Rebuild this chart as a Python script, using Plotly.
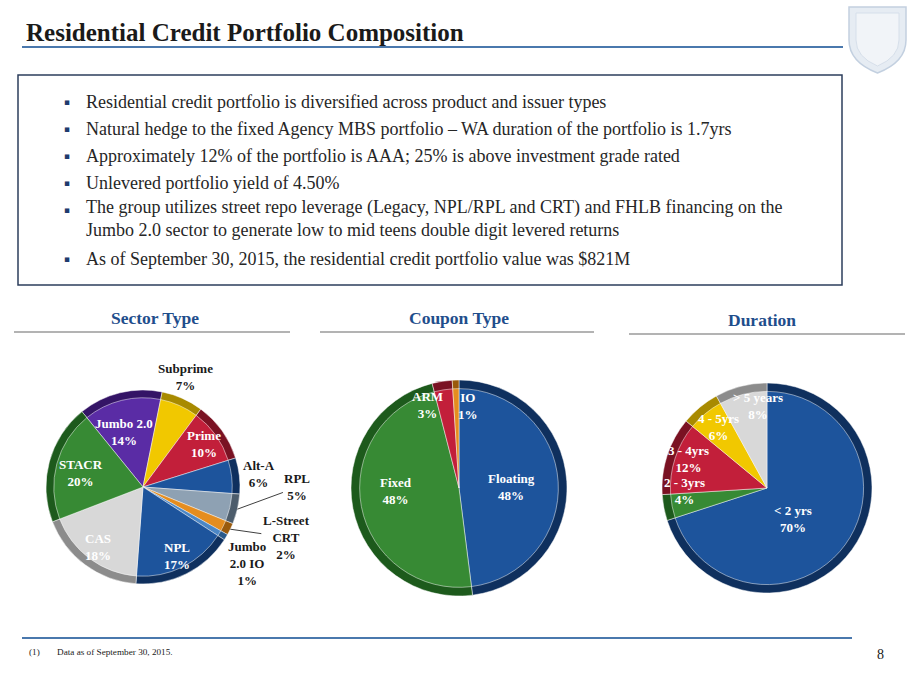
import math
import plotly.graph_objects as go

W, H = 920, 690

# ---- data ----
sector_labels = ['Jumbo 2.0', 'Subprime', 'Prime', 'Alt-A', 'RPL', 'L-Street CRT',
                 'Jumbo 2.0 IO', 'NPL', 'CAS', 'STACR']
sector_values = [14, 7, 10, 6, 5, 2, 1, 17, 18, 20]
sector_text = ['Jumbo 2.0', 'Subprime', 'Prime', 'Alt-A', 'RPL', 'L-Street<br>CRT',
               'Jumbo<br>2.0 IO', 'NPL', 'CAS', 'STACR']

coupon_labels = ['Floating', 'Fixed', 'ARM', 'IO']
coupon_values = [48, 48, 3, 1]

duration_labels = ['< 2 yrs', '2 - 3yrs', '3 - 4yrs', '4 - 5yrs', '> 5 years']
duration_values = [70, 4, 12, 6, 8]

bullets = [
    'Residential credit portfolio is diversified across product and issuer types',
    'Natural hedge to the fixed Agency MBS portfolio \u2013 WA duration of the portfolio is 1.7yrs',
    'Approximately 12% of the portfolio is AAA; 25% is above investment grade rated',
    'Unlevered portfolio yield of 4.50%',
    'The group utilizes street repo leverage (Legacy, NPL/RPL and CRT) and FHLB financing on the'
    '<br>Jumbo 2.0 sector to generate low to mid teens double digit levered returns',
    'As of September 30, 2015, the residential credit portfolio value was $821M',
]

# ---- styles ----
BLUE, BLUE_D = '#1d549c', '#0f305e'
GREEN, GREEN_D = '#378a34', '#1d5a1c'
RED, RED_D = '#c21f3a', '#7a1223'
YELLOW, YELLOW_D = '#f1c800', '#a88a00'
GRAY, GRAY_D = '#d8d8d8', '#8c8c8c'
PURPLE, PURPLE_D = '#5a2ca5', '#341466'
ORANGE, ORANGE_D = '#e58d1f', '#9a5a0c'
SLATE, SLATE_D = '#8ea1b3', '#4d5d6c'
LBLUE, LBLUE_D = '#4c87c6', '#2a5a8c'

sector_colors = [PURPLE, YELLOW, RED, BLUE, SLATE, ORANGE, LBLUE, BLUE, GRAY, GREEN]
sector_dark = [PURPLE_D, YELLOW_D, RED_D, BLUE_D, SLATE_D, ORANGE_D, LBLUE_D, BLUE_D, GRAY_D, GREEN_D]
coupon_colors = [BLUE, GREEN, RED, ORANGE]
coupon_dark = [BLUE_D, GREEN_D, RED_D, ORANGE_D]
duration_colors = [BLUE, GREEN, RED, YELLOW, GRAY]
duration_dark = [BLUE_D, GREEN_D, RED_D, YELLOW_D, GRAY_D]

SERIF = 'Liberation Serif'
LABEL_FONT = dict(family=SERIF, size=13)


def px(x):
    return x / W


def py(y):
    return 1 - y / H


fig = go.Figure()
annotations = []
shapes = []


def text_at(x, y, text, font, xanchor='center', align='center'):
    annotations.append(dict(x=px(x), y=py(y), xref='paper', yref='paper', showarrow=False,
                            xanchor=xanchor, yanchor='middle', align=align,
                            text=text, font=font))


def add_pie(labels, values, colors, dark, cx, cy, r, rotation, name):
    for k, (rr, cols) in enumerate([(r, dark), (r * 0.92, colors)]):
        fig.add_trace(go.Pie(
            labels=labels, values=values, sort=False, direction='clockwise',
            rotation=rotation, textinfo='none', hoverinfo='label+percent' if k else 'skip',
            marker=dict(colors=cols, line=dict(color='rgba(255,255,255,0.6)', width=0.8)),
            domain=dict(x=[px(cx - rr), px(cx + rr)], y=[py(cy + rr), py(cy - rr)]),
            showlegend=False, name=name))


def slice_mids(values, rotation):
    total = sum(values)
    mids, a = [], rotation
    for v in values:
        span = 360 * v / total
        mids.append(a + span / 2)
        a += span
    return mids


def put_labels(texts, values, cx, cy, r, rotation, placement):
    mids = slice_mids(values, rotation)
    for i, (txt, v) in enumerate(zip(texts, values)):
        fac, shift, color, lead = placement[i]
        a = math.radians(mids[i] + shift)
        label = f'<b>{txt}<br>{v}%</b>'
        font = dict(LABEL_FONT, color=color)
        if lead is None:
            text_at(cx + fac * r * math.sin(a), cy - fac * r * math.cos(a), label, font)
        else:
            annotations.append(dict(
                x=px(cx + r * math.sin(a)), y=py(cy - r * math.cos(a)),
                xref='paper', yref='paper', showarrow=True,
                arrowhead=0, arrowwidth=1, arrowcolor='#404040', ax=lead[0], ay=lead[1],
                text=label, font=font, align='center'))


# Sector Type pie
S_CX, S_CY, S_R, S_ROT = 143, 487, 97, -39
add_pie(sector_labels, sector_values, sector_colors, sector_dark, S_CX, S_CY, S_R, S_ROT, 'Sector Type')
put_labels(sector_text, sector_values, S_CX, S_CY, S_R, S_ROT, [
    (0.60, -5, 'white', None),
    (1.22, -3, '#1a1a1a', None),
    (0.77, 0, 'white', None),
    (1.20, 0, '#1a1a1a', None),
    (1.0, 0, '#1a1a1a', (60, -22)),
    (1.0, 0, '#1a1a1a', (56, 8)),
    (1.33, 5, '#1a1a1a', None),
    (0.79, 0, 'white', None),
    (0.77, 0, 'white', None),
    (0.66, -2, 'white', None),
])

# Coupon Type pie
C_CX, C_CY, C_R, C_ROT = 459, 488, 108, 0
add_pie(coupon_labels, coupon_values, coupon_colors, coupon_dark, C_CX, C_CY, C_R, C_ROT, 'Coupon Type')
put_labels(coupon_labels, coupon_values, C_CX, C_CY, C_R, C_ROT, [
    (0.49, 2, 'white', None),
    (0.58, 8, 'white', None),
    (0.82, -12, 'white', None),
    (0.76, 8, 'white', None),
])

# Duration pie
D_CX, D_CY, D_R, D_ROT = 767, 488, 105, 0
add_pie(duration_labels, duration_values, duration_colors, duration_dark, D_CX, D_CY, D_R, D_ROT, 'Duration')
put_labels(duration_labels, duration_values, D_CX, D_CY, D_R, D_ROT, [
    (0.38, 14, 'white', None),
    (0.79, 9, 'white', None),
    (0.80, 2, 'white', None),
    (0.74, 1, 'white', None),
    (0.79, 8, 'white', None),
])

# ---- page furniture ----
text_at(24, 33, '<b>Residential Credit Portfolio Composition</b>',
        dict(family=SERIF, size=25, color='#1a1a1a'), xanchor='left')
shapes.append(dict(type='line', xref='paper', yref='paper', x0=px(22), x1=px(843),
                   y0=py(47), y1=py(47), line=dict(color='#4a78ad', width=2)))

# logo shield
shapes.append(dict(type='path', xref='paper', yref='paper',
                   path=f'M {px(849)},{py(7)} L {px(906)},{py(7)} L {px(906)},{py(40)} '
                        f'Q {px(906)},{py(62)} {px(877.5)},{py(73)} Q {px(849)},{py(62)} {px(849)},{py(40)} Z',
                   fillcolor='#e6ecf3', line=dict(color='#c3d0e0', width=1.5)))
shapes.append(dict(type='path', xref='paper', yref='paper',
                   path=f'M {px(856)},{py(13)} L {px(899)},{py(13)} L {px(899)},{py(40)} '
                        f'Q {px(899)},{py(57)} {px(877.5)},{py(66)} Q {px(856)},{py(57)} {px(856)},{py(40)} Z',
                   fillcolor='#f1f4f8', line=dict(color='#d6dfea', width=1)))

# bullet box
shapes.append(dict(type='rect', xref='paper', yref='paper', x0=px(18), x1=px(842),
                   y0=py(285), y1=py(75), line=dict(color='#2c3e5c', width=1.5)))
bullet_y = [102, 129, 156, 183, 219, 259]
for txt, yy in zip(bullets, bullet_y):
    first_y = yy - 9 if '<br>' in txt else yy
    text_at(67, first_y, '\u25aa', dict(family='DejaVu Sans', size=9, color='#1f3b6e'))
    text_at(84, yy, txt, dict(family=SERIF, size=18, color='#262626'), xanchor='left', align='left')

# section headers
for title, cxh, yh, x0, x1, yl in [('Sector Type', 155, 318, 14, 290, 332),
                                    ('Coupon Type', 459, 318, 320, 594, 332),
                                    ('Duration', 762, 320, 629, 905, 334)]:
    text_at(cxh, yh, f'<b>{title}</b>', dict(family=SERIF, size=17.5, color='#1f4e8c'))
    shapes.append(dict(type='line', xref='paper', yref='paper', x0=px(x0), x1=px(x1),
                       y0=py(yl), y1=py(yl), line=dict(color='#9a9a9a', width=1.5)))

# footer
shapes.append(dict(type='line', xref='paper', yref='paper', x0=px(22), x1=px(852),
                   y0=py(638), y1=py(638), line=dict(color='#4a78ad', width=2)))
text_at(27, 652, '(1)', dict(family=SERIF, size=9.2, color='#1a1a1a'), xanchor='left')
text_at(55, 652, 'Data as of September 30, 2015.', dict(family=SERIF, size=9.2, color='#1a1a1a'),
        xanchor='left')
text_at(880, 654, '8', dict(family=SERIF, size=14, color='#1a1a1a'))

fig.update_layout(width=W, height=H, margin=dict(l=0, r=0, t=0, b=0),
                  paper_bgcolor='white', plot_bgcolor='white',
                  annotations=annotations, shapes=shapes)

fig.write_html('out.html', config={'displayModeBar': False},
               post_script="document.body.style.margin='0';document.body.style.overflow='hidden';")
